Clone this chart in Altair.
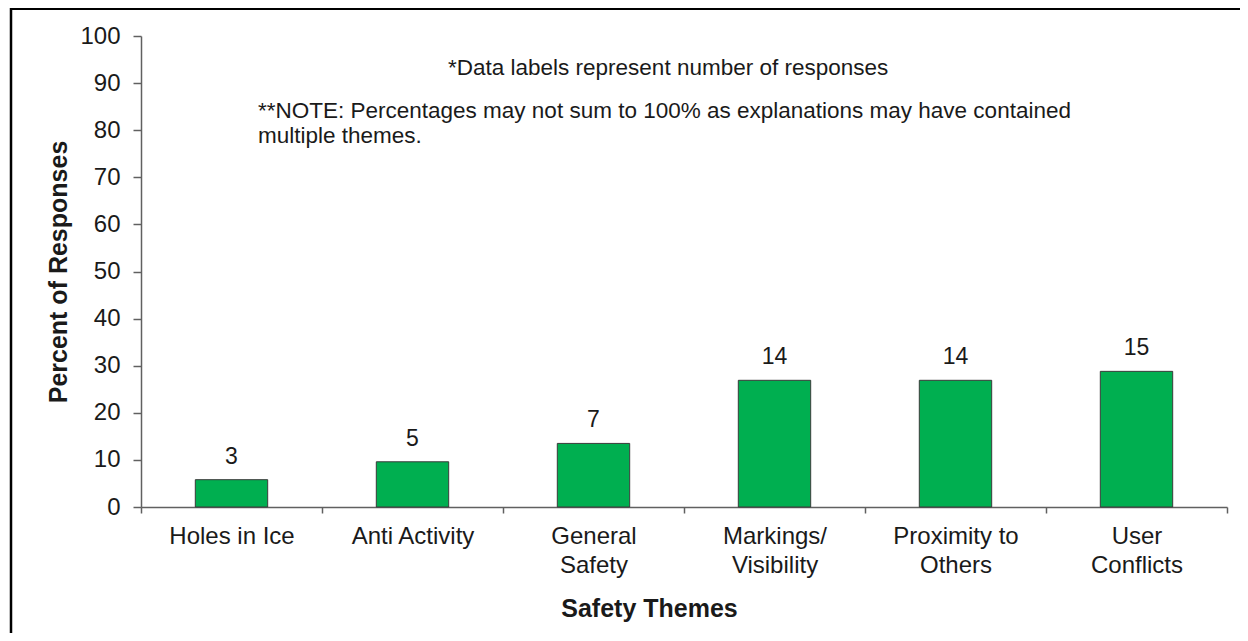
import altair as alt
import pandas as pd

# ---- data ----
categories = ["Holes in Ice", "Anti Activity", "General|Safety", "Markings/|Visibility",
              "Proximity to|Others", "User|Conflicts"]
percents = [5.8, 9.6, 13.5, 26.9, 26.9, 28.8]
counts = [3, 5, 7, 14, 14, 15]
y_ticks = list(range(0, 101, 5))
note1 = "*Data labels represent number of responses"
note2 = "**NOTE: Percentages may not sum to 100% as explanations may have contained\nmultiple themes."

df = pd.DataFrame({"cat": categories, "pct": percents, "n": counts})
one = pd.DataFrame({"k": [0]})

FONT = "Liberation Sans"
W, H = 1086, 471
AXC = "#606060"
TXT = "#1a1a1a"

x_enc = alt.X(
    "cat:N", sort=categories,
    scale=alt.Scale(paddingInner=0, paddingOuter=0),
    axis=alt.Axis(
        title="Safety Themes", labelAngle=0, tickBand="extent",
        labelExpr="split(datum.label, '|')", labelLineHeight=29,
        labelFont=FONT, labelFontSize=24, labelColor=TXT, labelPadding=11,
        labelBaseline="top",
        tickSize=6, tickColor=AXC, domainColor=AXC, domainWidth=1.5, tickWidth=1.5,
        titleFont=FONT, titleFontSize=25, titleFontWeight="bold", titleColor=TXT,
        titleX=508, titleY=101, titleAlign="center", titleBaseline="middle",
        grid=False,
    ),
)

y_enc = alt.Y(
    "pct:Q",
    scale=alt.Scale(domain=[0, 100], nice=False, zero=True),
    axis=alt.Axis(
        title="Percent of Responses", values=y_ticks,
        labelExpr="datum.value % 10 === 0 ? datum.label : ''",
        labelFont=FONT, labelFontSize=24, labelColor=TXT, labelPadding=13,
        labelOverlap=False, labelFlush=False,
        tickSize={"condition": {"test": "datum.value % 10 !== 0", "value": 5}, "value": 8},
        tickColor=AXC, domainColor=AXC, domainWidth=1.5, tickWidth=1.5,
        titleFont=FONT, titleFontSize=25, titleFontWeight="bold", titleColor=TXT,
        titleX=-83, titleY=H / 2, titleAngle=270, titleAlign="center", titleBaseline="middle",
        grid=False,
    ),
)

bars = alt.Chart(df).mark_bar(
    width=alt.RelativeBandSize(0.4), color="#00AF50", stroke="#3a3a3a", strokeWidth=1
).encode(x=x_enc, y=y_enc)

labels = alt.Chart(df).mark_text(
    font=FONT, fontSize=23, color=TXT, dy=-16, baseline="alphabetic", align="center"
).encode(x=alt.X("cat:N", sort=categories), y="pct:Q", text="n:Q")

n1 = alt.Chart(one).mark_text(
    font=FONT, fontSize=22.5, color=TXT, align="left", baseline="alphabetic"
).encode(x=alt.value(307), y=alt.value(39), text=alt.value(note1))

n2 = alt.Chart(one).mark_text(
    font=FONT, fontSize=22.5, color=TXT, align="left", baseline="alphabetic",
    lineBreak="\n", lineHeight=25
).encode(x=alt.value(117), y=alt.value(82), text=alt.value(note2))

border_top = alt.Chart(one).mark_rule(color="#000000", strokeWidth=2).encode(
    x=alt.value(-131), x2=alt.value(W + 20), y=alt.value(-27)
)
border_left = alt.Chart(one).mark_rule(color="#000000", strokeWidth=2.5).encode(
    x=alt.value(-130), y=alt.value(-28), y2=alt.value(H + 140)
)

chart = alt.layer(bars, labels, n1, n2, border_top, border_left).properties(
    width=W, height=H,
    background="white",
    padding={"left": 133, "top": 28, "right": 13, "bottom": 126},
    autosize=alt.AutoSizeParams(type="none"),
).configure_view(stroke=None)

chart.save("out.html", embed_options={"renderer": "svg", "actions": False})
